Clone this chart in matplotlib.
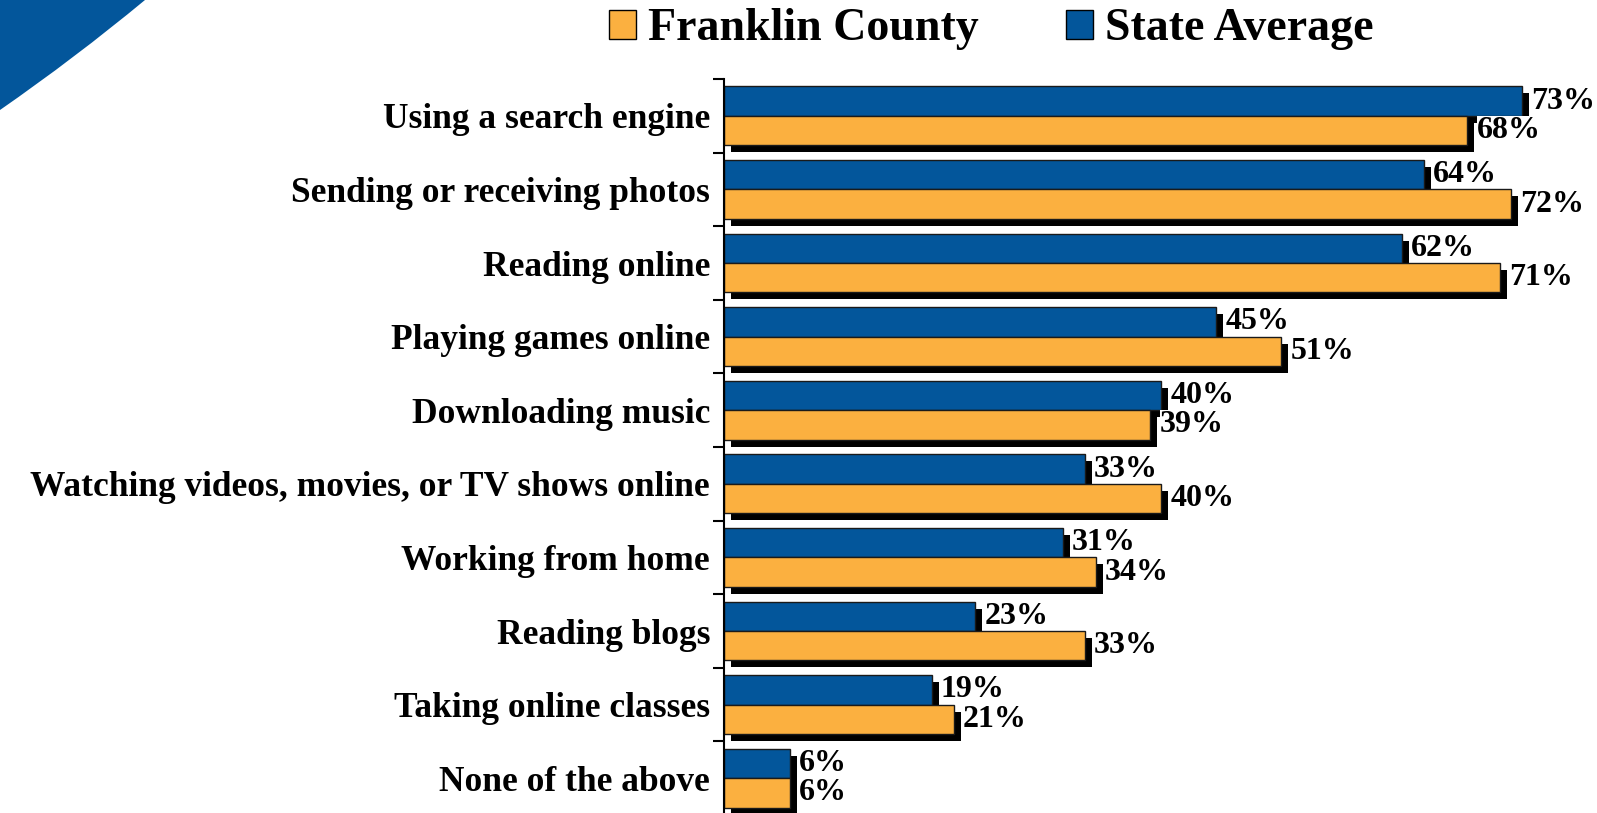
import matplotlib
matplotlib.use("Agg")
import matplotlib.pyplot as plt
from matplotlib.patches import Patch, PathPatch
from matplotlib.path import Path
import numpy as np

# data
categories = ["Using a search engine", "Sending or receiving photos", "Reading online",
              "Playing games online", "Downloading music",
              "Watching videos, movies, or TV shows online", "Working from home",
              "Reading blogs", "Taking online classes", "None of the above"]
state_avg = [73, 64, 62, 45, 40, 33, 31, 23, 19, 6]
franklin = [68, 72, 71, 51, 39, 40, 34, 33, 21, 6]

blue = "#03569B"
orange = "#FBB040"
serif = ["Liberation Serif", "DejaVu Serif"]

W, H = 1597, 813
fig = plt.figure(figsize=(W / 100, H / 100), dpi=100)

# decorative corner swoosh
pts = [(0, 0), (145, 0), (75, 58), (0, 110), (0, 0)]
codes = [Path.MOVETO, Path.LINETO, Path.CURVE3, Path.CURVE3, Path.CLOSEPOLY]
sw = Path([(x / W, 1 - y / H) for x, y in pts], codes)
fig.patches.append(PathPatch(sw, facecolor=blue, edgecolor="none", transform=fig.transFigure))

ax = fig.add_axes([724 / W, 1 - 815 / H, 870 / W, 736 / H])
xmax = 870 / 10.93
ax.set_xlim(0, xmax)
ax.set_ylim(9.5, -0.5)

y = np.arange(len(categories))
h = 0.4
dx = 7 / 10.93   # shadow offset in data units
dy = 7 / 73.6

# shadows
ax.barh(y - h / 2 + dy, state_avg, height=h, left=dx, color="black", zorder=1)
ax.barh(y + h / 2 + dy, franklin, height=h, left=dx, color="black", zorder=1)
# bars
ax.barh(y - h / 2, state_avg, height=h, color=blue, edgecolor="#1a1a1a", linewidth=1, zorder=2)
ax.barh(y + h / 2, franklin, height=h, color=orange, edgecolor="#1a1a1a", linewidth=1, zorder=2)

for i in range(len(categories)):
    ax.text(state_avg[i] + 0.85, y[i] - h / 2, f"{state_avg[i]}%", ha="left", va="center",
            fontsize=23, fontweight="bold", family=serif, zorder=3, clip_on=False)
    ax.text(franklin[i] + 0.85, y[i] + h / 2, f"{franklin[i]}%", ha="left", va="center",
            fontsize=23, fontweight="bold", family=serif, zorder=3, clip_on=False,
            bbox=dict(facecolor="white", edgecolor="none", pad=0))

ax.set_yticks(y)
ax.set_yticklabels(categories, fontsize=25.5, fontweight="bold", family=serif)
ax.set_yticks(np.arange(-0.5, len(categories), 1), minor=True)
ax.tick_params(axis="y", which="major", length=0, pad=10)
ax.tick_params(axis="y", which="minor", length=8, width=1.5, color="black")
ax.set_xticks([])
for s in ["top", "right", "bottom"]:
    ax.spines[s].set_visible(False)
ax.spines["left"].set_linewidth(1.5)

handles = [Patch(facecolor=orange, edgecolor="black", label="Franklin County"),
           Patch(facecolor=blue, edgecolor="black", label="State Average")]
fig.legend(handles=handles, loc="center", bbox_to_anchor=(0.6205, 0.964), ncol=2,
           frameon=False, handlelength=0.6, handleheight=0.6, handletextpad=0.25,
           columnspacing=1.9, prop=dict(family=serif, weight="bold", size=33))

fig.savefig("out.png", dpi=100)
